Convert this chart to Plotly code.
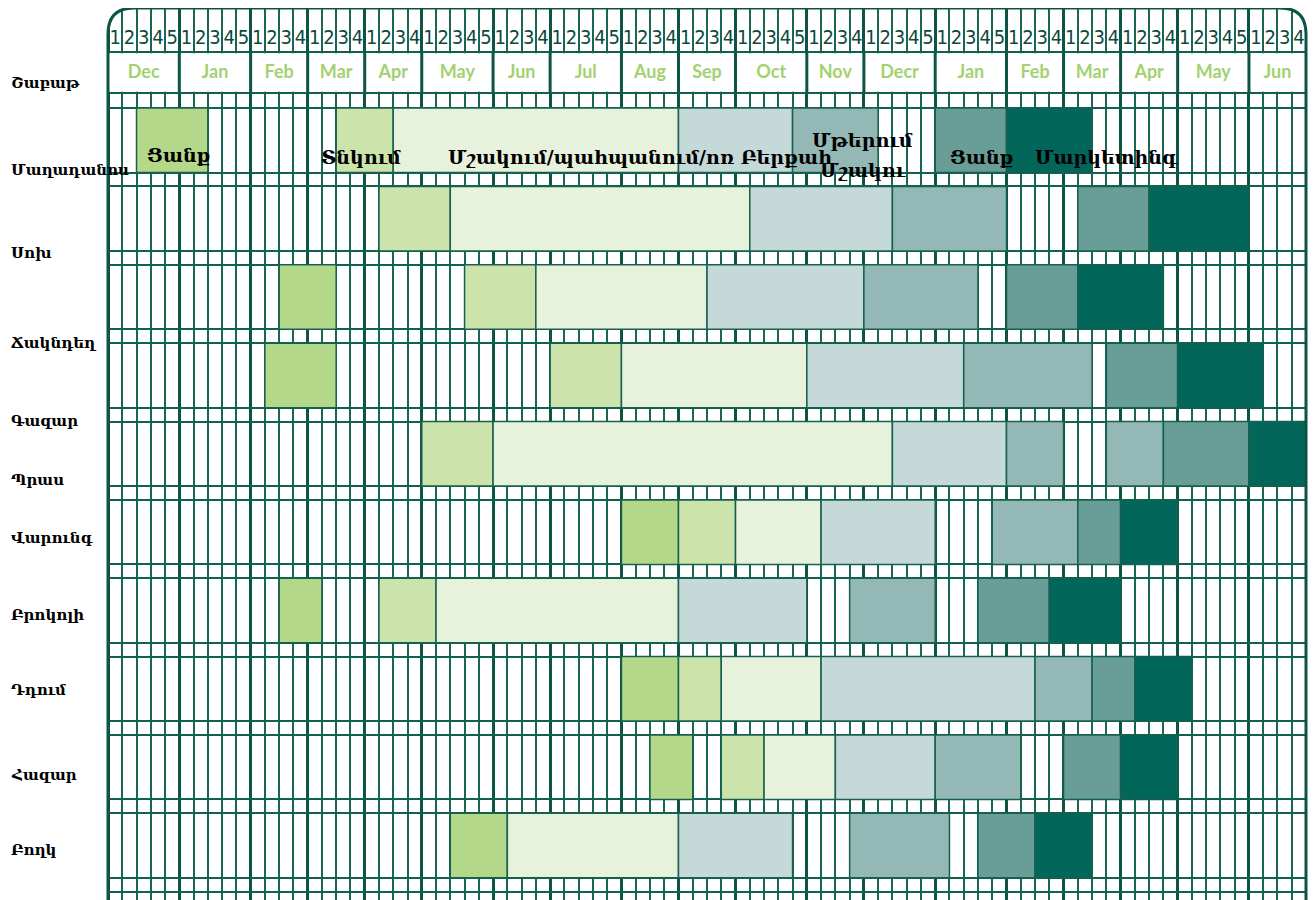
import plotly.graph_objects as go

# ---------------- data ----------------
months = ["Dec", "Jan", "Feb", "Mar", "Apr", "May", "Jun", "Jul", "Aug", "Sep",
          "Oct", "Nov", "Decr", "Jan", "Feb", "Mar", "Apr", "May", "Jun"]
weeks_per_month = [5, 5, 4, 4, 4, 5, 4, 5, 4, 4, 5, 4, 5, 5, 4, 4, 4, 5, 4]

crops = ["Մաղադանոս", "Սոխ", "Ճակնդեղ", "Գազար", "Պրաս",
         "Վարունգ", "Բրոկոլի", "Դդում", "Հազար", "Բողկ"]
header_label = "Շաբաթ"

# (start week, end week) per crop; None = no such stage; lists = several segments
sowing      = [(2, 7), None, (12, 16), (11, 16), None, (36, 40), (12, 15), (36, 40), (38, 41), (24, 28)]
planting    = [(16, 20), (19, 24), (25, 30), (31, 36), (22, 27), (40, 44), (19, 23), (40, 43), (43, 46), None]
cultivation = [(20, 40), (24, 45), (30, 42), (36, 49), (27, 55), (44, 50), (23, 40), (43, 50), (46, 51), (28, 40)]
harvest     = [(40, 48), (45, 55), (42, 53), (49, 60), (55, 63), (50, 58), (40, 49), (50, 65), (51, 58), (40, 48)]
storage     = [(48, 54), (55, 63), (53, 61), (60, 69), [(63, 67), (70, 74)], (62, 68), (52, 58), (65, 69), (58, 64), (52, 59)]
processing  = [(58, 63), (68, 73), (63, 68), (70, 75), (74, 80), (68, 71), (61, 66), (69, 72), (67, 71), (61, 65)]
marketing   = [(63, 69), (73, 80), (68, 74), (75, 81), (80, 84), (71, 75), (66, 71), (72, 76), (71, 75), (65, 69)]

stage_names = ["Ցանք", "Տնկում", "Մշակում/պահպանում/ոռոգում", "Բերքահավաք",
               "Մթերում", "Մշակում", "Մարկետինգ"]
stage_data = [sowing, planting, cultivation, harvest, storage, processing, marketing]
stage_colors = ["#b4d889", "#cce3ab", "#e7f2dc", "#c4d9d8", "#93b8b5", "#689e97", "#02665b"]

# ---------------- layout constants (screen pixels) ----------------
W, H = 1316, 900
PAGE_OFF = 8                                  # default body margin of the html page
GRID_LEFT, GRID_RIGHT = 108, 1306
N_WEEKS = sum(weeks_per_month)
S = (GRID_RIGHT - GRID_LEFT) / N_WEEKS          # px per week
ROW_TOP0, ROW_PITCH, BAR_H = 108.1, 78.36, 64.5
TOP_Y, WEEKROW_BOTTOM, MONTHROW_BOTTOM = 8, 52, 93
RADIUS = 26

DARK = "#0c5545"
WEEKLINE = "#1a6554"


def px(xp):
    return (xp - GRID_LEFT) / S


def row_center(i):
    return ROW_TOP0 + i * ROW_PITCH + BAR_H / 2


month_bounds = [0]
for n in weeks_per_month:
    month_bounds.append(month_bounds[-1] + n)
week_bounds = list(range(N_WEEKS + 1))

hlines = [WEEKROW_BOTTOM, MONTHROW_BOTTOM]
for i in range(len(crops)):
    top = ROW_TOP0 + i * ROW_PITCH
    hlines += [top, top + BAR_H]
hlines.append(ROW_TOP0 + len(crops) * ROW_PITCH)

fig = go.Figure()

# bars
for name, segs, color in zip(stage_names, stage_data, stage_colors):
    ys, bases, lens = [], [], []
    for i, seg in enumerate(segs):
        if seg is None:
            continue
        pieces = seg if isinstance(seg, list) else [seg]
        for a, b in pieces:
            ys.append(row_center(i))
            bases.append(a)
            lens.append(b - a)
    fig.add_trace(go.Bar(orientation="h", y=ys, x=lens, base=bases, width=BAR_H,
                         marker=dict(color=color, line=dict(color="#17604f", width=1.5)),
                         name=name, hoverinfo="skip"))

# week numbers
wx, wt = [], []
for m, n in enumerate(weeks_per_month):
    for k in range(n):
        wx.append(month_bounds[m] + k + 0.5)
        wt.append(str(k + 1))
fig.add_trace(go.Scatter(x=wx, y=[38.5] * len(wx), text=wt, mode="text",
                         textfont=dict(family="Liberation Sans Narrow, DejaVu Sans Condensed, Roboto",
                                       size=20, color="#0b4a3c"),
                         hoverinfo="skip"))

# month names
mx = [(month_bounds[i] + month_bounds[i + 1]) / 2 for i in range(len(months))]
fig.add_trace(go.Scatter(x=mx, y=[73] * len(mx), text=["<b>" + m + "</b>" for m in months],
                         mode="text",
                         textfont=dict(family="Lato, Open Sans", size=18, color="#a3d16f"),
                         hoverinfo="skip"))

xmin = px(PAGE_OFF)
xmax = px(W)

shapes = []
white = dict(type="rect", fillcolor="white", line=dict(width=0), layer="between",
             xref="x", yref="y")
shapes.append(dict(white, x0=xmin, x1=0, y0=0, y1=H))
shapes.append(dict(white, x0=N_WEEKS, x1=xmax, y0=0, y1=H))
shapes.append(dict(white, x0=xmin, x1=xmax, y0=0, y1=TOP_Y))
shapes.append(dict(white, x0=0, x1=N_WEEKS, y0=WEEKROW_BOTTOM + 1.2, y1=MONTHROW_BOTTOM - 1.2))
rx = RADIUS / S
shapes.append(dict(type="path", xref="x", yref="y", layer="between", fillcolor="white",
                   line=dict(width=0),
                   path=f"M 0,{TOP_Y} L 0,{TOP_Y + RADIUS} Q 0,{TOP_Y} {rx},{TOP_Y} Z"))
shapes.append(dict(type="path", xref="x", yref="y", layer="between", fillcolor="white",
                   line=dict(width=0),
                   path=f"M {N_WEEKS},{TOP_Y} L {N_WEEKS},{TOP_Y + RADIUS} Q {N_WEEKS},{TOP_Y} {N_WEEKS - rx},{TOP_Y} Z"))
for b in month_bounds[1:-1]:
    shapes.append(dict(type="line", xref="x", yref="y", x0=b, x1=b,
                       y0=WEEKROW_BOTTOM, y1=MONTHROW_BOTTOM, line=dict(color=DARK, width=3),
                       layer="above"))
shapes.append(dict(type="path", xref="x", yref="y", layer="above",
                   line=dict(color=DARK, width=3),
                   path=(f"M 0,{H + 5} L 0,{TOP_Y + RADIUS} Q 0,{TOP_Y} {rx},{TOP_Y} "
                         f"L {N_WEEKS - rx},{TOP_Y} Q {N_WEEKS},{TOP_Y} {N_WEEKS},{TOP_Y + RADIUS} "
                         f"L {N_WEEKS},{H + 5}")))

annotations = []
label_font = dict(family="DejaVu Serif", size=15, color="black", weight="bold")
label_x = px(PAGE_OFF + 0.5)
label_y = [170, 253, 343, 421, 480, 538, 615, 690, 775, 850]
annotations.append(dict(x=label_x, y=83, text=header_label, xanchor="left", yanchor="middle",
                        showarrow=False, font=label_font, xref="x", yref="y"))
for name, yy in zip(crops, label_y):
    annotations.append(dict(x=label_x, y=yy, text=name, xanchor="left", yanchor="middle",
                            showarrow=False, font=label_font, xref="x", yref="y"))

stage_font = dict(family="DejaVu Serif", size=19, color="black", weight="bold")
overlay = [
    ("Ցանք", 179, 155, "center"),
    ("Տնկում", 361, 157, "center"),
    ("Մշակում/պահպանում/ոռ Բերքահ", 446, 157, "left"),
    ("Մթերում", 862, 140, "center"),
    ("Մշակու", 863, 170, "center"),
    ("Ցանք", 982, 157, "center"),
    ("Մարկետինգ", 1033, 157, "left"),
]
for t, xp, yp, anc in overlay:
    annotations.append(dict(x=px(xp), y=yp, text=t, xanchor=anc, yanchor="middle",
                            showarrow=False, font=stage_font, xref="x", yref="y"))

fig.update_layout(
    width=W - PAGE_OFF, height=H - PAGE_OFF, autosize=False,
    margin=dict(l=0, r=0, t=0, b=0),
    paper_bgcolor="white", plot_bgcolor="white",
    barmode="overlay", showlegend=False, hovermode=False,
    xaxis=dict(range=[xmin, xmax], tickmode="array", tickvals=month_bounds,
               showgrid=True, gridcolor=DARK, gridwidth=3, showticklabels=False,
               ticks="", zeroline=False, showline=False, fixedrange=True,
               minor=dict(tickmode="array", tickvals=week_bounds, showgrid=True,
                          gridcolor=WEEKLINE, gridwidth=1.5, ticks="")),
    yaxis=dict(range=[H, PAGE_OFF], tickmode="array", tickvals=hlines, showgrid=True,
               gridcolor="#13604e", gridwidth=2, showticklabels=False, ticks="",
               zeroline=False, showline=False, fixedrange=True),
    shapes=shapes, annotations=annotations,
)

fig.write_html("out.html")
